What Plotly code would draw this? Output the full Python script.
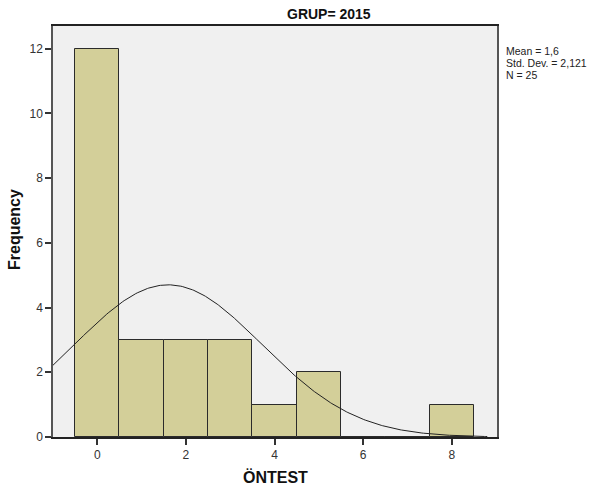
import numpy as np
import plotly.graph_objects as go

# Histogram of ÖNTEST scores, GRUP = 2015
scores = [0, 1, 2, 3, 4, 5, 6, 7, 8]
frequency = [12, 3, 3, 3, 1, 2, 0, 0, 1]
mean_val = 1.6
std_dev = 2.121
n_total = 25

x_ticks = [0, 2, 4, 6, 8]
y_ticks = [0, 2, 4, 6, 8, 10, 12]

W, H = 592, 492
L, R, T, B = 53, 95, 26, 55

fig = go.Figure()

fig.add_trace(go.Bar(
    x=scores, y=frequency, width=1,
    marker=dict(color="#D3CF99", line=dict(color="#2b2b2b", width=1)),
    hoverinfo="x+y",
))

# Fitted normal curve scaled by N * bin width
xc = np.linspace(-1.0, 8.8, 300)
yc = n_total * 1.0 / (std_dev * np.sqrt(2 * np.pi)) * np.exp(-0.5 * ((xc - mean_val) / std_dev) ** 2)
fig.add_trace(go.Scatter(x=xc, y=yc, mode="lines",
                         line=dict(color="#222222", width=1), hoverinfo="skip"))

FONT = "Liberation Sans, Arial, sans-serif"
tick_font = dict(family=FONT, size=12, color="#333333")

fig.update_layout(
    width=W, height=H,
    margin=dict(l=L, r=R, t=T, b=B),
    paper_bgcolor="white",
    plot_bgcolor="#F0F0F0",
    showlegend=False,
    bargap=0,
    xaxis=dict(range=[-1.0, 9.02], tickvals=x_ticks, ticks="outside", ticklen=6,
               tickcolor="#333333", tickwidth=1.5, showgrid=False, zeroline=False,
               showline=True, linecolor="#222222", linewidth=1.5, mirror=True,
               tickfont=tick_font),
    yaxis=dict(range=[0, 12.7], tickvals=y_ticks, ticks="outside", ticklen=6,
               tickcolor="#333333", tickwidth=1.5, showgrid=False, zeroline=False,
               showline=True, linecolor="#555555", linewidth=1.5, mirror=True,
               tickfont=tick_font),
)


def paper_x(px):
    return (px - L) / (W - L - R)


def paper_y(py):
    return ((H - py) - B) / (H - T - B)


fig.add_annotation(xref="paper", yref="paper", x=paper_x(328.5), y=paper_y(14),
                   text="<b>GRUP= 2015</b>", showarrow=False,
                   xanchor="center", yanchor="middle",
                   font=dict(family=FONT, size=14, color="#111111"))

fig.add_annotation(xref="paper", yref="paper", x=paper_x(275), y=paper_y(477),
                   text="<b>ÖNTEST</b>", showarrow=False,
                   xanchor="center", yanchor="middle",
                   font=dict(family=FONT, size=16, color="#111111"))

fig.add_annotation(xref="paper", yref="paper", x=paper_x(15), y=paper_y(230),
                   text="<b>Frequency</b>", textangle=-90, showarrow=False,
                   xanchor="center", yanchor="middle",
                   font=dict(family=FONT, size=16, color="#111111"))

stats_lines = [f"Mean = {str(mean_val).replace('.', ',')}",
               f"Std. Dev. = {str(std_dev).replace('.', ',')}",
               f"N = {n_total}"]
for i, line in enumerate(stats_lines):
    yp = 51.5 + i * 11.5
    fig.add_annotation(xref="paper", yref="paper", x=paper_x(504), y=paper_y(yp),
                       text=line, showarrow=False, xanchor="left", yanchor="middle",
                       font=dict(family=FONT, size=10.5, color="#222222"))

fig.write_html("out.html")
